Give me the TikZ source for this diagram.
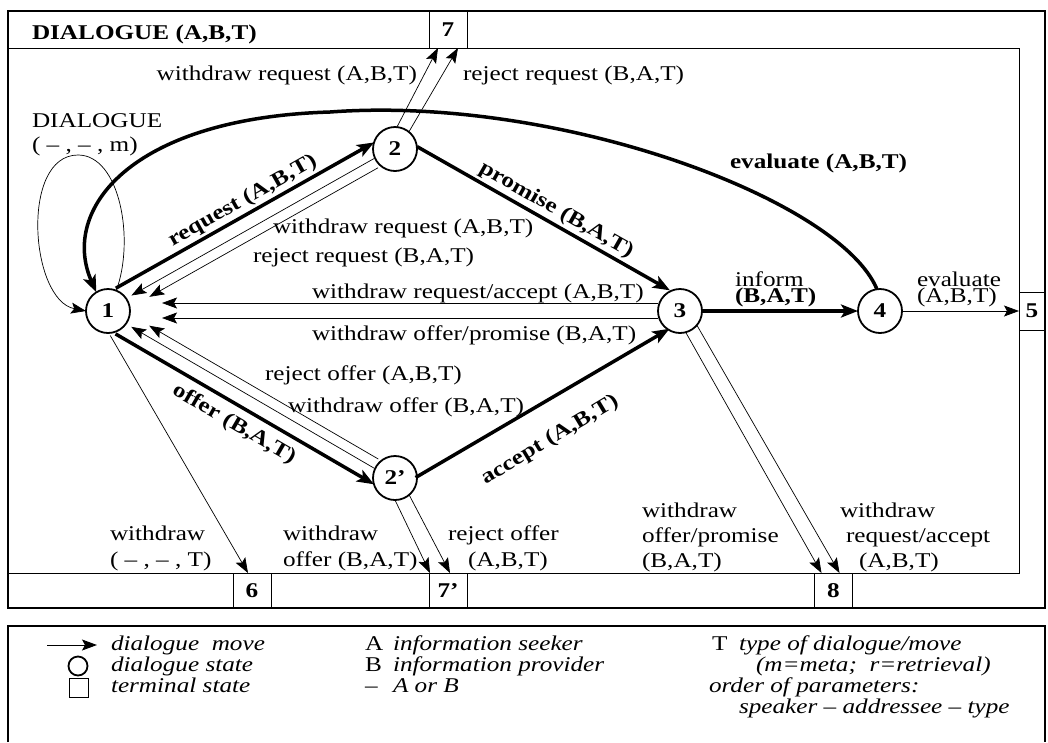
\documentclass[tikz,border=0pt]{standalone}
\usepackage{fontspec}
\setmainfont{Liberation Serif}[FakeStretch=1.2]
\usetikzlibrary{calc,arrows.meta}
\newcommand\myfs{\fontsize{21}{24}\selectfont}
\begin{document}
\begin{tikzpicture}[x=1pt,y=-1pt,
  every node/.style={inner sep=0pt, outer sep=0pt},
  lbl/.style={font=\myfs},
  blbl/.style={font=\myfs\bfseries},
  ilbl/.style={font=\myfs\itshape},
  ml/.style={font=\fontsize{21}{26}\selectfont, align=left, anchor=north west},
  state/.style={circle, draw, line width=1.8pt, minimum size=44pt, font=\myfs\bfseries},
  term/.style={draw, line width=0.9pt, minimum width=38pt, minimum height=36pt, font=\myfs\bfseries},
  thickarrow/.style={line width=3.5pt, -{Stealth[length=17pt,width=13pt,inset=4pt]}},
  thinarrow/.style={line width=0.7pt, -{Stealth[length=15pt,width=11pt,inset=3pt]}},
]
\useasboundingbox (0,0) rectangle (1048,742);
% frames
\draw[line width=2pt] (8,11) rectangle (1045,608);
\draw[line width=1pt] (8,48) rectangle (1019,573);
\node[blbl, anchor=base west] (title) at (32,39) {DIALOGUE (A,B,T)};
% terminal states
\node[term, minimum height=37pt] (t7) at (448,29.5) {7};
\node[term, minimum width=26pt, minimum height=38pt] (t5) at (1032,311) {5};
\node[term, minimum height=35pt] (t6) at (252,590.5) {6};
\node[term, minimum height=35pt] (t7p) at (448,590.5) {7'};
\node[term, minimum height=35pt] (t8) at (833.5,590.5) {8};
% dialogue states
\node[state] (n1) at (108,311) {1};
\node[state] (n2) at (395,149) {2};
\node[state] (n2p) at (395,478) {2'};
\node[state] (n3) at (680,311) {3};
\node[state] (n4) at (880,311) {4};
% loop
\draw[thinarrow] (n1.68) .. controls (135,240) and (120,155) .. (78,155)
  .. controls (20,155) and (30,300) .. (n1.west);
\node[lbl, anchor=base west] (lp1) at (32,127) {DIALOGUE};
\node[lbl, anchor=base west] (lp2) at (32,151) {( – , – , m)};
% evaluate arc
\draw[thickarrow] (n4.98) .. controls (840,200) and (560,95) .. (330,112)
  .. controls (130,118) and (60,210) .. (n1.122);
\node[blbl, anchor=base west] (ev) at (730,168) {evaluate (A,B,T)};
% request
\draw[thickarrow, shorten <=18pt, shorten >=15pt] ($(n1)!16pt!90:(n2)$) --
  node[sloped, above=4pt, pos=0.52, blbl] {request (A,B,T)} ($(n2)!16pt!-90:(n1)$);
\draw[thinarrow, shorten <=23pt, shorten >=28pt] ($(n2)!2pt!-90:(n1)$) -- ($(n1)!2pt!90:(n2)$);
\draw[thinarrow, shorten <=24pt, shorten >=43pt] ($(n2)!8pt!90:(n1)$) -- ($(n1)!8pt!-90:(n2)$);
\node[lbl, anchor=base west] (l1) at (273,233) {withdraw request (A,B,T)};
\node[lbl, anchor=base west] (l2) at (253,262) {reject request (B,A,T)};
% promise
\draw[thickarrow, shorten <=18pt, shorten >=19pt] ($(n2)!13pt!90:(n3)$) --
  node[sloped, above=4pt, pos=0.52, blbl] {promise (B,A,T)} ($(n3)!13pt!-90:(n2)$);
% offer
\draw[thickarrow, shorten <=18pt, shorten >=15pt] ($(n1)!16pt!-90:(n2p)$) --
  node[sloped, below=9pt, pos=0.5, blbl] {offer (B,A,T)} ($(n2p)!16pt!90:(n1)$);
\draw[thinarrow, shorten <=23pt, shorten >=28pt] ($(n2p)!2pt!90:(n1)$) -- ($(n1)!2pt!-90:(n2p)$);
\draw[thinarrow, shorten <=24pt, shorten >=43pt] ($(n2p)!8pt!-90:(n1)$) -- ($(n1)!8pt!90:(n2p)$);
\node[lbl, anchor=base west] (l3) at (265,380) {reject offer (A,B,T)};
\node[lbl, anchor=base west] (l4) at (288,412) {withdraw offer (B,A,T)};
% accept
\draw[thickarrow, shorten <=18pt, shorten >=18pt] ($(n2p)!10pt!-90:(n3)$) -- ($(n3)!10pt!90:(n2p)$);
\node[blbl, rotate=31] (lacc) at (550,440) {accept (A,B,T)};
% horizontal withdraws
\draw[thinarrow] ($(n3.west)+(0,-8)$) -- ($(n1.east)+(32,-8)$);
\draw[thinarrow] ($(n3.west)+(0,7)$) -- ($(n1.east)+(32,7)$);
\node[lbl, anchor=base west] (l5) at (312,298) {withdraw request/accept (A,B,T)};
\node[lbl, anchor=base west] (l6) at (312,340) {withdraw offer/promise (B,A,T)};
% inform, evaluate
\draw[thickarrow] (n3.east) -- (n4.west);
\node[font=\fontsize{21}{16}\selectfont, align=left, anchor=north west] (l7) at (735,272) {inform\\\textbf{(B,A,T)}};
\draw[thinarrow] (n4.east) -- (t5.west);
\node[font=\fontsize{21}{16}\selectfont, align=left, anchor=north west] (l8) at (917,272) {evaluate\\(A,B,T)};
% to 7
\draw[thinarrow] (n2.85) -- ($(t7.south west)+(9,0)$);
\draw[thinarrow] (n2.51) -- ($(t7.south west)+(29,0)$);
\node[lbl, anchor=base east] (l9) at (417,80) {withdraw request (A,B,T)};
\node[lbl, anchor=base west] (l10) at (463,80) {reject request (B,A,T)};
% to 6
\draw[thinarrow, shorten <=3pt] (n1.-88) -- ($(t6.north west)+(15,0)$);
\node[ml] (l11) at (110,526) {withdraw\\( – , – , T)};
% to 7'
\draw[thinarrow] (n2p.-90) -- ($(t7p.north west)+(1,0)$);
\draw[thinarrow] (n2p.-50) -- ($(t7p.north west)+(21,0)$);
\node[ml] (l12) at (283,526) {withdraw\\offer (B,A,T)};
\node[ml] (l13) at (448,526) {reject offer\\\hspace*{20pt}(A,B,T)};
% to 8
\draw[thinarrow] (n3.-75) -- ($(t8.north west)+(7,0)$);
\draw[thinarrow] (n3.-40) -- ($(t8.north west)+(25,0)$);
\node[font=\fontsize{21}{25}\selectfont, align=left, anchor=north west] (l14) at (642,503) {withdraw\\offer/promise\\(B,A,T)};
\node[font=\fontsize{21}{25}\selectfont, align=left, anchor=north west] (l15) at (840,503) {withdraw\\\hspace*{6pt}request/accept\\\hspace*{19pt}(A,B,T)};
% legend
\draw[line width=1.5pt] (8,742) -- (8,626) -- (1045,626) -- (1045,742);
\coordinate (la) at (47,645);
\coordinate (lb) at (97,645);
\draw[thinarrow, line width=1pt] (la) -- (lb);
\node[circle, draw, line width=1.8pt, minimum size=19pt] (lc) at (78,666) {};
\node[draw, line width=1.2pt, minimum size=19pt] (ls) at (79,688) {};
\node[ilbl, anchor=base west] (g1) at (111,650) {dialogue\ \ move};
\node[ilbl, anchor=base west] (g2) at (111,671) {dialogue state};
\node[ilbl, anchor=base west] (g3) at (111,692) {terminal state};
\node[lbl, anchor=base west] (g4) at (365,650) {A};
\node[lbl, anchor=base west] (g5) at (365,671) {B};
\node[lbl, anchor=base west] (g6) at (365,692) {–};
\node[ilbl, anchor=base west] (g7) at (393,650) {information seeker};
\node[ilbl, anchor=base west] (g8) at (393,671) {information provider};
\node[ilbl, anchor=base west] (g9) at (393,692) {A or B};
\node[lbl, anchor=base west] (g10) at (712,650) {T};
\node[ilbl, anchor=base west] (g11) at (739,650) {type of dialogue/move};
\node[ilbl, anchor=base west] (g12) at (756,671) {(m=meta;\ \ r=retrieval)};
\node[ilbl, anchor=base west] (g13) at (709,692) {order of parameters:};
\node[ilbl, anchor=base west] (g14) at (739,713) {speaker – addressee – type};
\end{tikzpicture}
\end{document}
